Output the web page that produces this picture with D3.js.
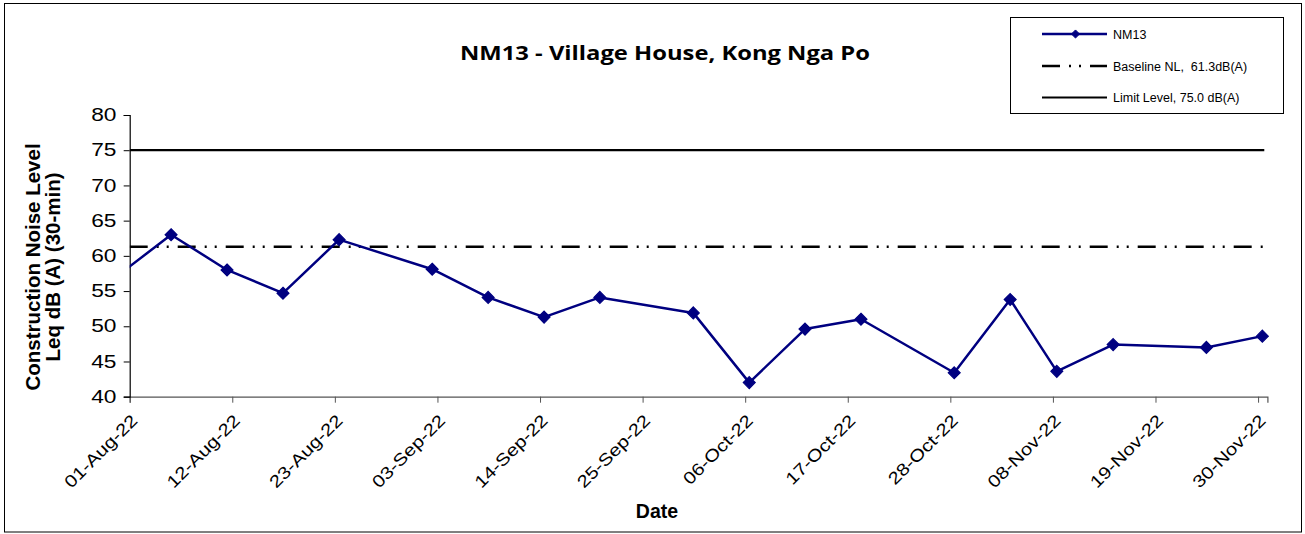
<!DOCTYPE html>
<html>
<head>
<meta charset="utf-8">
<script src="https://cdn.jsdelivr.net/npm/d3@7"></script>
<style>
    body { margin: 0; background: #fff; }
    svg { display: block; }
</style>
</head>
<body>
<svg id="chart"></svg>
<script>
// measurement dates (monitoring around mid-morning) and Leq values
const dates = [
    "2022-07-30 10:30", "2022-08-05 10:30", "2022-08-11 10:30", "2022-08-17 10:30",
    "2022-08-23 11:00", "2022-09-02 10:30", "2022-09-08 10:30", "2022-09-14 10:30",
    "2022-09-20 10:00", "2022-09-30 10:30", "2022-10-06 10:30", "2022-10-12 10:00",
    "2022-10-18 10:00", "2022-10-28 10:00", "2022-11-03 10:00", "2022-11-08 10:00",
    "2022-11-14 11:00", "2022-11-24 11:00", "2022-11-30 11:00"
];
const nm13 = [56.9, 63.0, 58.0, 54.7, 62.3, 58.1, 54.1, 51.3, 54.1, 51.9, 42.0, 49.6, 51.0, 43.4, 53.8, 43.6, 47.4, 47.0, 48.6];

const baselineNL = 61.3;
const limitLevel = 75.0;

const xDomain = ["2022-08-01", "2022-12-01"];
const xTicks = ["2022-08-01", "2022-08-12", "2022-08-23", "2022-09-03", "2022-09-14", "2022-09-25",
    "2022-10-06", "2022-10-17", "2022-10-28", "2022-11-08", "2022-11-19", "2022-11-30"];
const yTicks = [40, 45, 50, 55, 60, 65, 70, 75, 80];

const legendLabels = ["NM13", "Baseline NL,  61.3dB(A)", "Limit Level, 75.0 dB(A)"];

const W = 1305, H = 534;
const plot = { left: 129.7, right: 1267.4, top: 115, bottom: 396.7 };
const navy = '#000080';
const baseDash = '18,9,2,8,2,9';
const arial = 'Arial, "Liberation Sans", sans-serif';

const parseTime = d3.timeParse('%Y-%m-%d %H:%M');
const parseDay = d3.timeParse('%Y-%m-%d');

const svg = d3.select('#chart').attr('width', W).attr('height', H);

// outer frame
svg.append('rect')
    .attr('x', 4.5).attr('y', 3.5)
    .attr('width', 1297).attr('height', 528.5)
    .attr('fill', '#fff')
    .attr('stroke', '#000').attr('stroke-width', 1);

const x = d3.scaleTime()
    .domain(xDomain.map(parseDay))
    .range([plot.left, plot.right]);

const y = d3.scaleLinear()
    .domain([40, 80])
    .range([plot.bottom, plot.top]);

// title
svg.append('text')
    .attr('x', 460).attr('y', 60)
    .attr('textLength', 410)
    .attr('lengthAdjust', 'spacingAndGlyphs')
    .style('font-family', '"Open Sans", Lato, sans-serif')
    .style('font-weight', 'bold')
    .style('font-size', '19px')
    .text('NM13 - Village House, Kong Nga Po');

// axes
const xAxis = svg.append('g')
    .attr('transform', `translate(0,${plot.bottom})`)
    .call(d3.axisBottom(x)
        .tickValues(xTicks.map(parseDay))
        .tickFormat(d3.timeFormat('%d-%b-%y'))
        .tickSizeOuter(0)
        .tickSize(6));

xAxis.select('.domain').attr('stroke', '#555').attr('stroke-width', 1.2);
xAxis.selectAll('.tick line').attr('stroke', '#555');
xAxis.selectAll('.tick text')
    .style('font-family', arial)
    .style('font-size', '17px')
    .attr('fill', '#000')
    .attr('text-anchor', 'end')
    .attr('x', 0).attr('y', 0).attr('dy', 0)
    .attr('transform', 'translate(8.3,25) rotate(-45) scale(1.2,1)');

const yAxis = svg.append('g')
    .attr('transform', `translate(${plot.left},0)`)
    .call(d3.axisLeft(y)
        .tickValues(yTicks)
        .tickSizeOuter(0)
        .tickSize(6));

yAxis.select('.domain').attr('stroke', '#000').attr('stroke-width', 1.2);
yAxis.selectAll('.tick line').attr('stroke', '#000');
yAxis.selectAll('.tick text')
    .style('font-family', arial)
    .style('font-size', '17.5px')
    .attr('fill', '#000')
    .attr('x', 0)
    .attr('transform', 'translate(-13.2,0) scale(1.3,1)');

// axis titles
const yTitle = svg.append('text')
    .attr('transform', 'translate(0,267) rotate(-90)')
    .attr('text-anchor', 'middle')
    .style('font-family', arial)
    .style('font-weight', 'bold')
    .style('font-size', '20.5px');
yTitle.append('tspan').attr('x', 0).attr('y', 40).text('Construction Noise Level');
yTitle.append('tspan').attr('x', 0).attr('y', 59.5).text('Leq dB (A) (30-min)');

svg.append('text')
    .attr('x', 657).attr('y', 518.3)
    .attr('text-anchor', 'middle')
    .style('font-family', arial)
    .style('font-weight', 'bold')
    .style('font-size', '19.5px')
    .text('Date');

// clip to plot area
svg.append('clipPath').attr('id', 'plot-clip')
    .append('rect')
    .attr('x', plot.left).attr('y', plot.top - 10)
    .attr('width', plot.right - plot.left + 10)
    .attr('height', plot.bottom - plot.top + 10);

const g = svg.append('g').attr('clip-path', 'url(#plot-clip)');

const refEnd = d3.timeHour.offset(x.domain()[1], -8);

// limit level line
g.append('line')
    .attr('x1', x(x.domain()[0])).attr('x2', x(refEnd))
    .attr('y1', y(limitLevel)).attr('y2', y(limitLevel))
    .attr('stroke', '#000').attr('stroke-width', 2.2);

// baseline line
g.append('line')
    .attr('x1', x(x.domain()[0])).attr('x2', x(refEnd))
    .attr('y1', y(baselineNL)).attr('y2', y(baselineNL))
    .attr('stroke', '#000').attr('stroke-width', 2.5)
    .attr('stroke-dasharray', baseDash);

// NM13 series
const points = dates.map((d, i) => ({ date: parseTime(d), value: nm13[i] }));

const line = d3.line()
    .x(d => x(d.date))
    .y(d => y(d.value));

g.append('path')
    .datum(points)
    .attr('d', line)
    .attr('fill', 'none')
    .attr('stroke', navy)
    .attr('stroke-width', 2.5)
    .attr('stroke-linejoin', 'round');

const diamond = d3.symbol().type(d3.symbolDiamond2).size(90);

g.selectAll('.marker')
    .data(points)
    .enter()
    .append('path')
    .attr('class', 'marker')
    .attr('d', diamond)
    .attr('transform', d => `translate(${x(d.date)},${y(d.value)})`)
    .attr('fill', navy)
    .attr('stroke', navy)
    .attr('stroke-width', 1.2);

// legend
const legend = svg.append('g');
legend.append('rect')
    .attr('x', 1010.5).attr('y', 17.5)
    .attr('width', 273).attr('height', 96)
    .attr('fill', '#fff')
    .attr('stroke', '#000').attr('stroke-width', 1);

const legendRows = [34, 66, 97.5];
const sx1 = 1042, sx2 = 1107;

legend.append('line')
    .attr('x1', sx1).attr('x2', sx2)
    .attr('y1', legendRows[0]).attr('y2', legendRows[0])
    .attr('stroke', navy).attr('stroke-width', 2.5);
legend.append('path')
    .attr('d', d3.symbol().type(d3.symbolDiamond2).size(42))
    .attr('transform', `translate(${(sx1 + sx2) / 2 + 1},${legendRows[0]})`)
    .attr('fill', navy)
    .attr('stroke', navy);

legend.append('line')
    .attr('x1', sx1).attr('x2', sx2)
    .attr('y1', legendRows[1]).attr('y2', legendRows[1])
    .attr('stroke', '#000').attr('stroke-width', 2.5)
    .attr('stroke-dasharray', baseDash);

legend.append('line')
    .attr('x1', sx1).attr('x2', sx2)
    .attr('y1', legendRows[2]).attr('y2', legendRows[2])
    .attr('stroke', '#000').attr('stroke-width', 2.2);

legend.selectAll('.legend-text')
    .data(legendLabels)
    .enter()
    .append('text')
    .attr('class', 'legend-text')
    .attr('x', 1113)
    .attr('y', (d, i) => legendRows[i])
    .attr('dy', '0.36em')
    .style('font-family', arial)
    .style('font-size', '12.5px')
    .style('white-space', 'pre')
    .attr('fill', '#000')
    .text(d => d);
</script>
</body>
</html>
